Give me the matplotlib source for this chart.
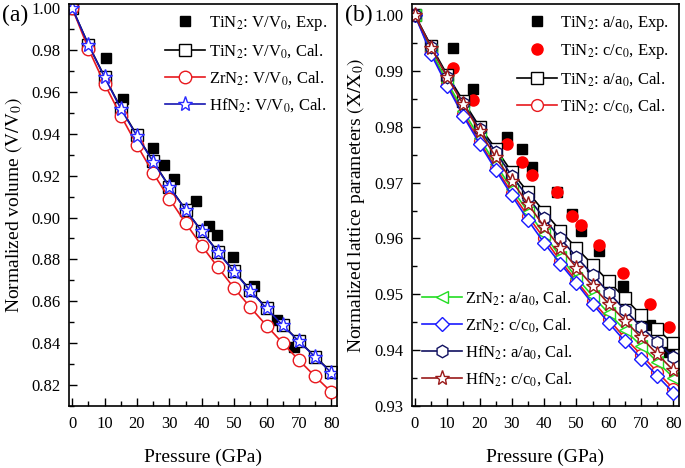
#!/usr/bin/env python3
"""Pressure dependence of normalized volume and lattice parameters for TiN2, ZrN2, HfN2."""
import matplotlib
matplotlib.use("Agg")
import matplotlib.pyplot as plt
from matplotlib.ticker import MultipleLocator

plt.rcParams["font.family"] = ["Liberation Serif", "DejaVu Serif"]
plt.rcParams["mathtext.fontset"] = "stix"

# calculated points, every 5 GPa
p_cal = [0, 5, 10, 15, 20, 25, 30, 35, 40, 45, 50, 55, 60, 65, 70, 75, 80]

# (a) V/V0
p_exp_v = [10.5, 15.6, 24.8, 28.4, 31.5, 38.2, 42.3, 44.6, 49.7, 56.2, 63.3, 68.5]
tin2_v_exp = [0.9760, 0.9568, 0.9333, 0.9249, 0.9182, 0.9078, 0.8960, 0.8919, 0.8810, 0.8671, 0.8512, 0.8384]
tin2_v_cal = [1.0, 0.9826, 0.9672, 0.9523, 0.9392, 0.9268, 0.9148, 0.9038, 0.8934, 0.8836, 0.8743,
              0.8653, 0.8568, 0.8487, 0.8410, 0.8336, 0.8262]
zrn2_v_cal = [1.0, 0.9806, 0.9638, 0.9487, 0.9346, 0.9212, 0.9090, 0.8974, 0.8865, 0.8762, 0.8663,
              0.8571, 0.8484, 0.8400, 0.8319, 0.8241, 0.8167]
hfn2_v_cal = [1.0, 0.9825, 0.9670, 0.9520, 0.9389, 0.9266, 0.9146, 0.9037, 0.8934, 0.8834, 0.8741,
              0.8650, 0.8566, 0.8485, 0.8409, 0.8334, 0.8259]

# (b) X/X0
p_exp_x = [11.9, 17.9, 28.6, 33.0, 36.3, 43.9, 48.7, 51.3, 57.1, 64.5, 72.9, 78.6]
tin2_a_exp = [0.9942, 0.9867, 0.9782, 0.9760, 0.9728, 0.9683, 0.9644, 0.9613, 0.9578, 0.9515, 0.9445, 0.9397]
tin2_c_exp = [0.9905, 0.9848, 0.9770, 0.9737, 0.9714, 0.9683, 0.9641, 0.9625, 0.9589, 0.9539, 0.9483, 0.9442]
tin2_a_cal = [1.0, 0.9945, 0.9893, 0.9846, 0.9800, 0.9761, 0.9719, 0.9683, 0.9648, 0.9614, 0.9583,
              0.9553, 0.9523, 0.9493, 0.9463, 0.9437, 0.9412]
tin2_c_cal = [1.0, 0.9934, 0.9876, 0.9823, 0.9774, 0.9727, 0.9682, 0.9640, 0.9600, 0.9560, 0.9524,
              0.9488, 0.9455, 0.9422, 0.9392, 0.9361, 0.9331]
zrn2_a_cal = [1.0, 0.9937, 0.9880, 0.9829, 0.9780, 0.9733, 0.9689, 0.9648, 0.9608, 0.9567, 0.9530,
              0.9497, 0.9466, 0.9436, 0.9408, 0.9379, 0.9351]
zrn2_c_cal = [1.0, 0.9930, 0.9873, 0.9819, 0.9770, 0.9723, 0.9677, 0.9633, 0.9592, 0.9555, 0.9520,
              0.9483, 0.9449, 0.9416, 0.9385, 0.9354, 0.9324]
hfn2_a_cal = [1.0, 0.9943, 0.9890, 0.9842, 0.9796, 0.9755, 0.9712, 0.9674, 0.9636, 0.9600, 0.9567,
              0.9535, 0.9503, 0.9472, 0.9442, 0.9415, 0.9387]
hfn2_c_cal = [1.0, 0.9942, 0.9889, 0.9840, 0.9792, 0.9746, 0.9703, 0.9662, 0.9621, 0.9583, 0.9548,
              0.9515, 0.9483, 0.9453, 0.9423, 0.9393, 0.9364]

LEG = dict(frameon=False, fontsize=12, handlelength=2.4, handletextpad=0.2,
           labelspacing=0.55, borderaxespad=0.2)


def style_axes(ax):
    ax.tick_params(direction="in", which="both", top=False, right=False, labelsize=12)
    ax.tick_params(axis="x", which="major", pad=7)
    ax.tick_params(axis="y", which="major", pad=6)
    ax.tick_params(which="major", length=6, width=1)
    ax.tick_params(which="minor", length=3.5, width=1)
    ax.xaxis.set_major_locator(MultipleLocator(10))
    ax.xaxis.set_minor_locator(MultipleLocator(5))
    ax.set_xlim(-1, 81.7)
    ax.set_xlabel("Pressure (GPa)", fontsize=14, labelpad=12)
    for s in ax.spines.values():
        s.set_linewidth(1.2)


def cal(ax, y, color, marker, label, mec=None, ms=8):
    ax.plot(p_cal, y, color=color, lw=1.2, marker=marker, ms=ms, mfc="white",
            mec=mec or color, mew=1.0, label=label)


fig = plt.figure(figsize=(6.85, 4.68), dpi=100)
ax1 = fig.add_axes([0.1007, 0.1325, 0.391, 0.859])
ax2 = fig.add_axes([0.601, 0.1325, 0.390, 0.859])

# (a)
ax1.plot(p_exp_v, tin2_v_exp, "s", color="black", ms=7, ls="none", label=r"TiN$_2$: V/V$_0$, Exp.")
cal(ax1, tin2_v_cal, "black", "s", r"TiN$_2$: V/V$_0$, Cal.", ms=8)
cal(ax1, zrn2_v_cal, "#e8191e", "o", r"ZrN$_2$: V/V$_0$, Cal.", ms=9)
cal(ax1, hfn2_v_cal, "#1515b0", "*", r"HfN$_2$: V/V$_0$, Cal.", mec="#2a2aff", ms=11)
style_axes(ax1)
ax1.set_ylim(0.81, 1.002)
ax1.yaxis.set_major_locator(MultipleLocator(0.02))
ax1.yaxis.set_minor_locator(MultipleLocator(0.01))
ax1.yaxis.set_major_formatter(plt.FormatStrFormatter("%.2f"))
ax1.set_ylabel(r"Normalized volume $\left(\mathrm{V/V_0}\right)$", fontsize=14, labelpad=5)
ax1.legend(loc="upper right", **LEG)
fig.text(0.003, 0.955, "(a)", fontsize=17)

# (b)
ax2.plot(p_exp_x, tin2_a_exp, "s", color="black", ms=7, ls="none", label=r"TiN$_2$: a/a$_0$, Exp.")
ax2.plot(p_exp_x, tin2_c_exp, "o", color="red", ms=8, ls="none", label=r"TiN$_2$: c/c$_0$, Exp.")
cal(ax2, tin2_a_cal, "black", "s", r"TiN$_2$: a/a$_0$, Cal.", ms=8)
cal(ax2, tin2_c_cal, "#e8191e", "o", r"TiN$_2$: c/c$_0$, Cal.", ms=8.5)
cal(ax2, zrn2_a_cal, "#22dd22", "<", r"ZrN$_2$: a/a$_0$, Cal.", ms=8)
cal(ax2, zrn2_c_cal, "#1a1aff", "D", r"ZrN$_2$: c/c$_0$, Cal.", ms=7)
cal(ax2, hfn2_a_cal, "#101060", "h", r"HfN$_2$: a/a$_0$, Cal.", ms=9)
cal(ax2, hfn2_c_cal, "#9a1a1a", "*", r"HfN$_2$: c/c$_0$, Cal.", ms=11)
style_axes(ax2)
ax2.set_ylim(0.93, 1.002)
ax2.yaxis.set_major_locator(MultipleLocator(0.01))
ax2.yaxis.set_minor_locator(MultipleLocator(0.005))
ax2.yaxis.set_major_formatter(plt.FormatStrFormatter("%.2f"))
ax2.set_ylabel(r"Normalized lattice parameters $\left(\mathrm{X/X_0}\right)$", fontsize=14, labelpad=5)
h, l = ax2.get_legend_handles_labels()
leg1 = ax2.legend(h[:4], l[:4], loc="upper right", **LEG)
ax2.add_artist(leg1)
ax2.legend(h[4:], l[4:], loc="lower left", bbox_to_anchor=(0.0, 0.02), **LEG)
fig.text(0.503, 0.955, "(b)", fontsize=17)

fig.savefig("out.png", dpi=100)
